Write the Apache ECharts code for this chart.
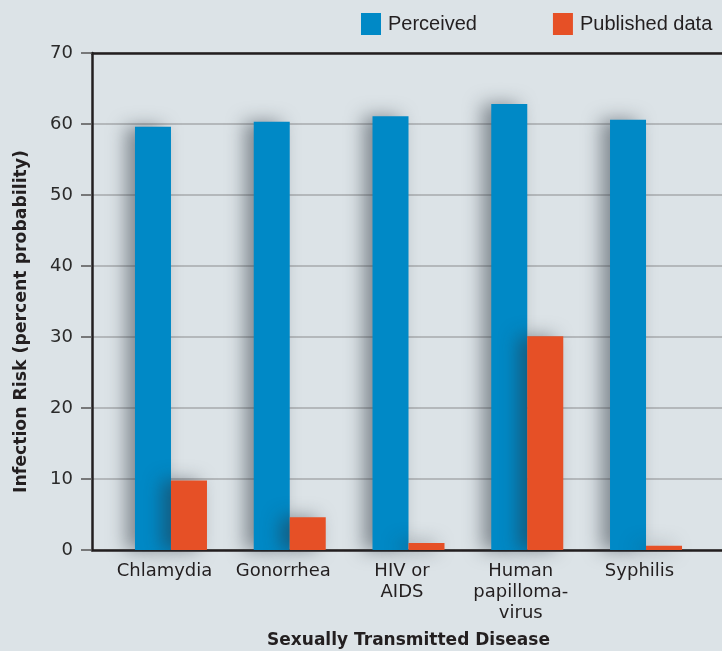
<!DOCTYPE html>
<html>
<head>
<meta charset="utf-8">
<script src="https://cdn.jsdelivr.net/npm/echarts@6/dist/echarts.min.js"></script>
<style>
html,body{margin:0;padding:0;background:#dce3e7;}
#chart{width:722px;height:651px;}
</style>
</head>
<body>
<div id="chart"></div>
<script>
const categories = ['Chlamydia', 'Gonorrhea', 'HIV or\nAIDS', 'Human\npapilloma-\nvirus', 'Syphilis'];
const perceived = [59.6, 60.3, 61.1, 62.8, 60.6];
const published = [9.8, 4.6, 1.0, 30.1, 0.6];
const yTicks = [0, 10, 20, 30, 40, 50, 60, 70];
const seriesNames = ['Perceived', 'Published data'];

const FONT = '"Liberation Sans", Arial, sans-serif';
const WIDE = '"DejaVu Sans", sans-serif';
const chart = echarts.init(document.getElementById('chart'), null, {renderer: 'canvas'});
const shadow = {shadowBlur: 18, shadowOffsetX: -9, shadowOffsetY: 0, shadowColor: 'rgba(40,50,60,0.5)'};

chart.setOption({
  backgroundColor: '#dce3e7',
  animation: false,
  textStyle: {fontFamily: FONT},
  legend: {
    left: 361, top: 13, padding: 0,
    itemWidth: 20, itemHeight: 22, itemGap: 76,
    icon: 'rect',
    selectedMode: false,
    textStyle: {fontSize: 20, color: '#231f20', fontFamily: FONT, padding: [0, 0, 0, 2]},
    data: seriesNames
  },
  graphic: [{
    type: 'text',
    left: 13, top: 150,
    rotation: Math.PI / 2,
    style: {
      text: 'Infection Risk (percent probability)',
      font: 'bold 17.3px ' + WIDE,
      fill: '#231f20'
    }
  }],
  grid: [
    {left: 92, right: 0, top: 53, bottom: 101, outerBoundsMode: 'none', containLabel: false},
    {left: 111.6, right: 16.6, top: 53, bottom: 101, outerBoundsMode: 'none', containLabel: false}
  ],
  xAxis: [
    {gridIndex: 0, type: 'value', min: 0, max: 1, position: 'bottom',
     axisLine: {show: true, lineStyle: {color: '#231f20', width: 2.5}},
     axisTick: {show: false}, axisLabel: {show: false}, splitLine: {show: false}},
    {gridIndex: 0, type: 'value', min: 0, max: 1, position: 'top',
     axisLine: {show: true, lineStyle: {color: '#231f20', width: 2.5}},
     axisTick: {show: false}, axisLabel: {show: false}, splitLine: {show: false}},
    {gridIndex: 1, type: 'category', data: categories,
     axisLine: {show: false}, axisTick: {show: false},
     axisLabel: {fontSize: 18, color: '#231f20', lineHeight: 21, margin: 11, interval: 0,
                 fontFamily: WIDE, padding: [0, 13, 0, 0]},
     name: 'Sexually Transmitted Disease', nameLocation: 'middle', nameGap: 82,
     nameTextStyle: {fontSize: 17, fontWeight: 'bold', color: '#231f20', fontFamily: WIDE}}
  ],
  yAxis: [
    {gridIndex: 0, type: 'value', min: yTicks[0], max: yTicks[yTicks.length - 1], interval: 10,
     axisLine: {show: true, lineStyle: {color: '#231f20', width: 2.5}},
     axisTick: {show: true, length: 11, lineStyle: {color: '#555', width: 1.5}},
     axisLabel: {fontSize: 18, color: '#2a2a2a', margin: 19, fontFamily: WIDE},
     splitLine: {show: true, lineStyle: {color: '#a7aaad', width: 1.5}}},
    {gridIndex: 1, type: 'value', min: yTicks[0], max: yTicks[yTicks.length - 1], interval: 10,
     show: false, splitLine: {show: false}}
  ],
  series: [
    {name: seriesNames[0], type: 'bar', xAxisIndex: 2, yAxisIndex: 1, data: perceived,
     barWidth: 36, barGap: '0%', itemStyle: Object.assign({color: '#0089c6'}, shadow)},
    {name: seriesNames[1], type: 'bar', xAxisIndex: 2, yAxisIndex: 1, data: published,
     barWidth: 36, barGap: '0%', itemStyle: Object.assign({color: '#e65026'}, shadow)}
  ]
});
</script>
</body>
</html>
